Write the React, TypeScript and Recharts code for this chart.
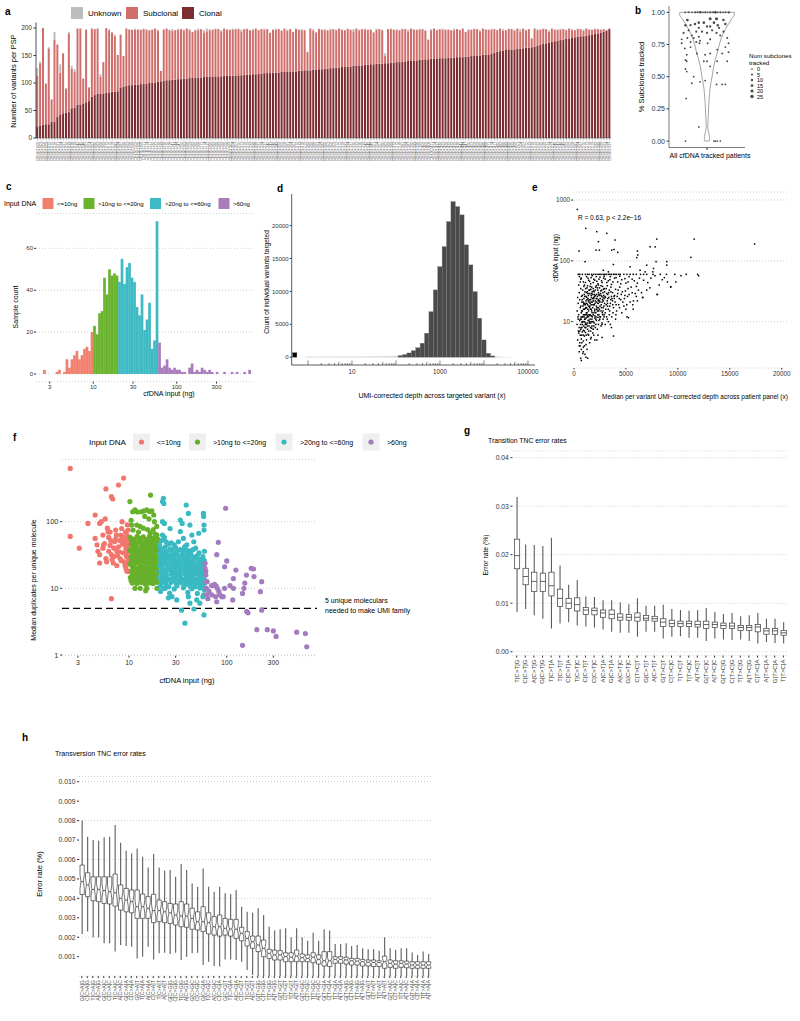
import React from 'react';
import {
  BarChart, Bar, XAxis, YAxis, CartesianGrid, ScatterChart, Scatter,
  ComposedChart, ReferenceLine, Cell,
} from 'recharts';

const FONT = '"Liberation Sans", Arial, Helvetica, sans-serif';

// ---------------- Panel a ----------------
const aClonal = [
  20,23,24,25,25,29,30,38,42,45,46,47,54,55,60,60,63,65,67,75,78,81,81,81,82,83,84,84,85,92,93,95,
  96,96,97,97,98,98,99,100,100,101,102,103,104,105,
  105,106,106,107,107,108,108,109,109,110,110,110,
  111,111,111,112,112,112,112,113,113,113,113,113,
  114,114,115,115,115,116,116,117,117,118,118,
  118,119,119,119,120,120,120,121,121,121,122,122,
  123,123,123,124,124,125,125,
  126,126,127,127,128,128,129,129,130,130,131,131,132,132,133,133,
  134,134,135,135,135,136,136,137,137,
  138,138,139,139,140,140,141,141,142,142,143,143,
  144,144,144,145,145,145,146,146,146,147,147,147,148,148,
  149,149,150,150,151,151,151,
  153,155,157,158,159,
  160,160,161,161,162,162,163,164,164,165,166,
  168,169,171,172,173,175,176,
  177,178,179,180,181,182,183,184,185,185,186,
  187,188,189,190,191,193,195,198,
];
const aSubclonal = [
  93,113,176,74,138,41,149,132,77,109,43,143,72,66,139,139,45,132,25,123,120,117,30,57,118,113,108,101,66,96,56,104,
  101,101,100,100,99,100,97,96,97,98,
  93,19,93,94,91,89,90,90,91,88,
  91,87,84,86,86,88,81,83,85,85,
  86,86,82,86,84,84,84,85,84,80,
  83,83,81,80,83,79,81,79,80,73,
  78,78,79,75,79,75,77,72,77,75,
  74,73,33,76,71,68,73,72,70,70,
  69,71,68,71,67,67,68,67,63,68,
  64,66,64,64,63,58,62,63,61,13,
  62,61,60,58,58,59,59,54,59,56,
  56,55,56,52,36,52,55,52,53,52,
  52,51,50,50,51,49,52,45,48,48,
  49,48,44,48,46,46,44,43,39,41,
  36,36,38,37,34,37,32,36,32,34,
  16,33,28,28,27,26,20,24,21,20,
  19,19,16,18,14,13,14,13,10,13,
  10,9,9,8,6,5,1,1,
];
const aUnknown = [
  14,3,0,0,2,0,14,0,15,0,2,3,5,4,0,0,0,1,0,2,0,2,5,0,0,2,0,3,0,0,0,1,
  1,0,2,1,0,1,2,0,1,0,
  2,0,1,0,1,3,0,2,0,1,
  0,2,0,1,3,0,4,5,2,0,
  1,0,2,0,1,0,2,0,1,3,
  0,1,0,2,0,1,0,2,0,1,
  0,2,0,1,0,2,0,0,1,0,
  2,0,1,0,3,0,1,0,2,0,
  3,0,1,0,2,0,1,0,4,0,
  1,0,2,0,1,0,2,0,1,5,
  0,1,0,2,0,1,0,3,0,1,
  0,2,0,1,0,2,0,1,0,2,
  0,1,0,3,0,1,0,0,2,0,
  1,0,2,0,1,0,2,0,1,0,
  3,0,1,0,2,0,4,0,1,0,
  1,0,2,0,1,0,3,0,1,0,
  2,0,1,0,2,0,1,0,2,0,
  1,0,1,0,0,0,1,0,
];
const aPatients = aClonal.map((_, i) => 'CRUK' + String(1000 + i * 3).padStart(4, '0'));
const aData = aPatients.map((p, i) => ({ name: p, clonal: aClonal[i], subclonal: aSubclonal[i], unknown: aUnknown[i] }));

// ---------------- Panel b ----------------
const bPointsRaw = [
  [0.656,1,3],[0.709,1,5],[0.762,1,2],[0.815,1,8],[0.852,1,4],[0.894,1,12],[0.937,1,3],[0.974,1,6],[1.011,1,2],
  [1.053,1,9],[1.095,1,4],[1.132,1,15],[1.169,1,3],[1.212,1,7],[1.254,1,2],[1.291,1,5],[1.344,1,10],
  [0.69,0.94,16],[1.05,0.95,19],[1.15,0.95,20],[1.26,0.94,13],[1.29,0.91,11],[0.87,0.92,12],[0.95,0.92,14],
  [0.66,0.9,10],[0.74,0.9,9],[0.81,0.91,11],[1.11,0.92,12],[1.17,0.9,10],[0.87,0.88,8],[1.0,0.89,9],
  [1.05,0.89,9],[1.19,0.88,8],[0.71,0.86,7],[0.83,0.85,6],[0.92,0.85,7],[1.08,0.86,7],[1.26,0.85,6],
  [0.63,0.84,6],[0.76,0.82,5],[0.87,0.81,5],[1.0,0.84,6],[1.15,0.84,6],[1.21,0.82,5],[0.69,0.8,4],
  [0.79,0.8,4],[0.89,0.78,4],[1.05,0.79,5],[1.32,0.8,4],[0.6,0.79,4],[0.74,0.77,3],[0.83,0.77,4],
  [0.88,0.76,4],[1.01,0.76,3],[0.6,0.76,4],[0.65,0.72,3],[0.74,0.73,3],[1.34,0.76,4],[1.29,0.73,3],
  [1.16,0.71,3],[0.84,0.68,3],[0.68,0.67,3],[0.97,0.67,3],[1.05,0.68,3],[1.24,0.68,3],[1.34,0.69,3],
  [0.66,0.63,3],[0.68,0.62,2],[0.95,0.62,2],[1.0,0.62,3],[1.16,0.62,3],[1.32,0.62,2],[0.66,0.56,2],
  [0.68,0.54,2],[1.05,0.58,2],[0.79,0.5,2],[0.89,0.46,2],[0.97,0.47,2],[1.16,0.53,2],[1.15,0.44,2],
  [1.29,0.44,2],[1.24,0.44,2],[0.76,0.45,2],[0.67,0.33,2],[0.87,0.11,1],[0.66,0,0],[1.11,0,0],
  [1.16,0,0],[1.21,0,0],[1.13,0,0],
];
const bPoints = bPointsRaw.map(([x, y, n]) => ({ x, y, n }));
const bViolinY = [0, 0.02, 0.05, 0.08, 0.11, 0.15, 0.2, 0.25, 0.3, 0.37, 0.45, 0.5, 0.58, 0.63, 0.7, 0.76, 0.84, 0.91, 0.95, 0.98, 1.0];
const bViolinHalfWidth = [0.035, 0.042, 0.035, 0.02, 0.012, 0.015, 0.02, 0.025, 0.03, 0.04, 0.06, 0.08, 0.106, 0.13, 0.17, 0.2, 0.26, 0.34, 0.39, 0.43, 0.43];
const bViolin = [
  ...bViolinY.map((y, i) => ({ x: 1 - bViolinHalfWidth[i], y })),
  ...bViolinY.map((y, i) => ({ x: 1 + bViolinHalfWidth[i], y })).reverse(),
];
bViolin.push({ ...bViolin[0] });
const bDotR = (n) => 0.85 + n * 0.035;

// ---------------- Panel c ----------------
const cBinStartLog = 0.4;
const cBinWidthLog = 0.03;
const cCounts = [
  2,0,0,0,0,1,2,0,1,7,3,7,9,11,7,9,12,13,11,20,
  23,19,29,30,46,38,50,47,48,47,
  44,55,43,51,53,46,44,32,28,38,21,26,34,12,16,73,
  15,3,4,7,3,2,3,2,2,1,1,0,3,5,1,2,1,3,2,1,2,1,0,1,0,0,1,0,0,1,0,1,0,0,1,0,2,
];
const groupColors = ['#F0806F', '#6AB42D', '#3DBAC4', '#A97DBD'];
const fColors = ['#F3766E', '#67B02B', '#39B9C2', '#A47BBF'];
const groupNames = ['<=10ng', '>10ng to <=20ng', '>20ng to <=60ng', '>60ng'];
const groupLimits = [10, 20, 60];
const groupOf = (ng) => (ng <= groupLimits[0] ? 0 : ng <= groupLimits[1] ? 1 : ng <= groupLimits[2] ? 2 : 3);
const cData = cCounts.map((c, k) => {
  const lx = cBinStartLog + cBinWidthLog * (k + 0.5);
  const g = groupOf(Math.pow(10, lx));
  return { lx, g0: g === 0 ? c : 0, g1: g === 1 ? c : 0, g2: g === 2 ? c : 0, g3: g === 3 ? c : 0 };
});
const cTickValues = [3, 10, 30, 100, 300];

// ---------------- Panel d ----------------
const dBinCenterLog = [
  -0.3, 0.0,0.1,0.2,0.3,0.4,0.5,0.6,0.7,0.8,0.9,1.0,1.1,1.2,1.3,1.4,1.5,1.6,1.7,1.8,1.9,
  2.0,2.1,2.2,2.3,2.4,2.5,2.6,2.7,2.8,2.9,3.0,3.1,3.2,3.3,3.4,3.5,3.6,3.7,3.8,3.9,4.0,4.1,4.2,4.3,4.4,4.5,4.6,
];
const dCounts = [
  700, 60,50,50,55,50,60,55,60,65,65,70,70,75,80,80,90,100,110,120,130,
  170,260,400,650,1000,1450,2130,3650,6930,10230,13770,16810,20610,23650,22890,21630,17070,14030,9970,5930,2630,600,200,80,40,20,10,
];
const dData = dBinCenterLog.map((lx, i) => ({ lx, count: dCounts[i] }));
const dTickDecades = [0, 1, 2, 3, 4, 5];
const dLabelDecades = [1, 3, 5];

// ---------------- Panel e ----------------
const ePointsRaw = [
  [400,60],[550,60],[800,60],[1100,60],[1300,60],[1450,60],[1700,60],[1900,60],[2100,60],[2300,60],[2450,60],[2600,60],
  [2800,60],[2950,60],[3100,60],[3300,60],[3450,60],[3600,60],[3800,60],[3950,60],[4100,60],[4300,60],[4450,60],[4800,60],
  [5100,60],[5400,60],[5700,60],[6000,60],[6400,60],[6700,60],[7000,60],[7600,60],[8300,60],[8900,60],[9700,60],[10800,60],[11900,60],
  [320,700],[1125,342],[2185,302],[3150,283],[3950,220],[2350,207],[2440,150],[2120,150],[3630,150],[3850,154],[4210,138],
  [480,145],[1060,97],[6100,145],[6140,125],[6040,113],[7330,170],[7810,170],[7970,228],[7900,97],[11570,228],[11250,114],
  [17390,189],[8930,97],[8930,85],[7650,75],[7590,66],[3790,87],[2830,70],[3310,66],[5400,80],[7000,85],[6360,70],[6850,66],
  [6620,25],[8030,28],[9320,37.6],[5240,11.6],[5080,19],[5720,22],
  [700,52],[900,45],[1200,55],[1400,48],[1600,42],[1900,50],[2200,46],[2500,54],[2700,44],[3000,50],[3300,47],[3600,41],
  [3900,52],[4200,45],[4600,49],[5000,43],[5300,55],[5800,47],[6300,52],[7100,44],[7800,57],[8500,49],[1000,40],[1750,57],
  [2350,40],[2900,56],[3500,55],[4400,56],
  [500,30],[650,35],[800,27],[950,38],[1050,31],[1150,26],[1250,36],[1350,29],[1450,33],[1550,38],[1650,27],[1750,31],
  [1850,35],[1950,28],[2050,33],[2150,39],[2250,26],[2350,30],[2450,36],[2550,29],[2650,33],[2750,38],[2850,27],[2950,31],
  [3100,35],[3250,28],[3400,33],[3550,37],[3700,30],[3850,26],[4000,34],[4200,29],[4400,37],[4650,31],[4900,27],[5200,35],
  [5600,30],[6000,38],[6600,25],[7000,33],[8000,28],[9300,37],[1300,39],[1700,37],[2600,39],[3200,39],[1900,25],[2800,25],[3600,26],
  [300,15],[400,20],[450,13],[550,23],[600,17],[700,14],[750,21],[850,18],[900,13],[950,24],[1000,16],[1050,20],[1100,13],
  [1150,22],[1200,17],[1250,14],[1300,19],[1350,24],[1400,15],[1450,21],[1500,17],[1550,13],[1600,23],[1650,19],[1700,15],
  [1750,21],[1800,17],[1850,13],[1900,24],[1950,19],[2000,16],[2050,22],[2100,14],[2150,18],[2200,24],[2250,15],[2300,20],
  [2350,17],[2400,13],[2450,22],[2500,18],[2600,15],[2700,21],[2800,17],[2900,24],[3000,14],[3100,19],[3200,22],[3300,16],
  [3400,13],[3500,20],[3650,24],[3800,17],[3950,21],[4100,15],[4300,19],[4500,23],[4800,18],[5100,12],[5400,21],[5700,16],
  [6100,22],[1250,23],[1550,20],[1850,22],[2150,21],[1400,18],[1700,12.5],[2000,12.5],[950,19],[1100,16.5],[1650,16],
  [2350,23],[2750,13],[3250,24],[800,15],
  [300,9],[400,11],[500,8],[550,10.5],[650,7.5],[700,11],[800,9],[850,12],[900,7.2],[1000,10],[1050,8],[1150,11.5],
  [1200,9],[1300,7.5],[1350,10.5],[1450,8.5],[1550,11],[1600,9.5],[1700,7.8],[1800,10],[1900,8.5],[2000,11.5],[2100,9],
  [2250,7.5],[2400,10.5],[2600,8.5],[2800,11],[3000,9],[3300,10],[3600,8],[4000,11],[1100,9.5],[1500,10],[1250,11.8],
  [750,9.8],[2300,11.8],
  [350,5],[450,6.5],[550,4.5],[600,6],[700,5.2],[800,6.8],[900,4.8],[1000,5.8],[1100,6.6],[1200,5],[1350,6.2],[1500,4.5],
  [1650,5.5],[1800,6.5],[2000,5],[2300,6],[2700,5.5],[3800,5.8],[900,3.8],[700,3.5],
  [640,2.5],[1320,2.5],[900,3.2],[500,3.2],
  [650,18],[720,26],[780,12],[830,33],[880,21],[920,16],[980,28],[1020,11],[1080,19],[1120,35],[1180,14],[1220,25],
  [1280,31],[1320,12.5],[1380,27],[1420,10.5],[1480,23],[1520,29],[1580,16],[1620,34],[1680,25],[1720,11],[1780,28],
  [1820,19],[1880,32],[1920,14],[1980,26],[2020,20],[2080,37],[2120,12],[2180,28],[2220,17],[2280,33],[2320,22],[2380,15],
  [2420,27],[2480,11],[2520,24],[2580,32],[2620,19],[2680,26],[2720,14],[2780,30],[2820,22],[2880,18],[2920,35],[2980,26],
  [3050,16],[3150,29],[3220,20],[3350,25],[3450,18],[3550,31],[3700,22],[3750,14],[3900,27],[4050,19],[4250,33],[4350,24],
  [4550,28],[4700,21],[4950,32],[5150,26],[5500,37],[5900,29],[6200,33],
  [600,11],[680,8],[740,15],[790,23],[860,10],[940,20],[990,13],[1040,26],[1090,9],[1140,17],[1190,30],[1230,20],[1270,9.5],
  [1330,16],[1390,22],[1440,13],[1490,33],[1530,18],[1590,8],[1640,21],[1690,29],[1740,14],[1790,24],[1840,10],[1890,19],
  [1940,31],[1990,15],[2040,27],[2090,11],[2140,24],[2190,16],[2240,36],[2290,13],[2340,20],[2390,28],[2440,16],[2490,21],
  [2540,12],[2590,27],[2640,17],[2690,9],[2740,23],[2790,15],[2840,34],[2890,12],[2940,20],[3030,25],[3130,12],[3230,18],
  [3330,30],[3430,15],[3530,23],[3630,12],[3730,19],[3880,24],[4030,13],[4150,26],[4380,17],[4600,14],[4850,24],[5000,16],
  [5300,28],[5650,19],[6000,26],[6500,30],[7300,36],
  [550,7],[620,9],[680,12],[720,6],[760,8],[820,10],[880,6],[930,8.5],[970,12],[1010,7],[1070,11],[1130,8],[1170,6],
  [1230,13],[1290,8.5],[1360,12],[1410,7],[1470,9.5],[1530,12.5],[1600,7],[1660,10],[1720,8.5],[1760,12],[1850,7.5],
  [1950,9.5],[2050,8],[2150,10.5],[2350,9],[2500,12],[2700,9.5],[2900,13],[3200,11],[3500,9],[600,4],[750,4.5],[850,3],
  [1000,4],[1150,4.2],[1250,3.5],[1400,6],[1600,5.2],[700,2.3],[1150,2.6],[1900,6],[2200,5],[1050,2.9],[500,4],[420,7],
  [380,12],[350,25],[450,40],[600,45],[520,55],[650,50],
  [1100,44],[1350,52],[1500,46],[1650,53],[1850,44],[2000,48],[2150,55],[2300,42],[2400,50],[2650,47],[2850,52],[3150,44],
  [3450,49],[3750,45],[4050,53],[4500,42],[4900,51],[5200,45],[5600,50],[6100,43],[6700,48],[7400,52],[8200,40],[9000,45],
  [10300,57],[12000,57],[8700,53],[9800,45],
];
const ePoints = ePointsRaw.map(([x, y]) => ({ x, y }));

// ---------------- Panel f ----------------
const fRed = [
  [2.5,630],[2.5,60],[3.1,40],[3.8,94],[4.5,126],[5.0,24],[5.8,310],[6.6,237],[6.8,219],[7.8,355],[8.8,450],[6.6,7],
  [4.5,56],[5.0,94],[5.2,100],[5.4,63],[4.8,36],[5.0,32],[5.4,40],[5.6,47],[5.8,28],[5.9,25],[6.1,70],[6.2,36],[6.4,44],
  [6.5,52],[6.6,32],[6.7,27],[6.9,24],[7.0,40],[7.1,50],[7.3,75],[7.4,63],[7.5,36],[7.6,31],[7.8,42],[8.0,52],[8.1,28],
  [8.2,63],[8.4,79],[8.5,100],[8.6,46],[8.8,34],[8.9,25],[9.1,22],[9.3,40],[9.5,63],[9.6,56],[9.8,30],[9.9,18],[9.5,18],
  [8.3,26],[7.5,22],[7.3,55],[6.4,70],[6.0,80],[5.5,45],[4.7,45],[5.7,110],[8.5,60],[9.2,70],[9.6,90],[9.8,75],[9.0,48],
  [8.0,35],[7.0,30],[6.2,58],[9.9,38],[9.7,24],[9.3,20],[9.9,50],[9.7,44],[9.4,30],[8.7,55],[9.9,27],[9.6,35],
];
const fGreen = [
  [10.3,58],[11.2,55],[12.1,60],[13.0,56],[14.0,59],[15.1,54],[16.2,60],[17.4,56],[18.5,58],[19.6,55],
  [10.6,46],[11.6,44],[12.6,48],[13.6,45],[14.6,47],[15.7,43],[16.8,46],[17.9,44],[19.0,47],[19.9,45],
  [10.2,37],[11.1,35],[12.0,38],[13.0,36],[14.1,37],[15.2,35],[16.3,38],[17.5,36],[18.7,37],[19.8,36],
  [10.5,29],[11.5,28],[12.5,30],[13.5,29],[14.5,28],[15.5,30],[16.6,29],[17.8,28],[19.0,30],[20.0,29],
  [10.2,23],[11.1,22],[12.0,24],[13.0,23],[14.1,22],[15.2,24],[16.3,23],[17.5,22],[18.7,24],[19.8,23],
  [10.6,18],[11.6,17.5],[12.6,18.5],[13.6,18],[14.6,17.5],[15.7,18.5],[16.8,18],[17.9,17.5],[19.0,18.5],[19.9,18],
  [10.3,14.5],[11.2,14],[12.1,15],[13.0,14.5],[14.0,14],[15.1,15],[16.2,14.5],[17.4,14],[18.5,15],[19.6,14.5],
  [10.8,12],[12.0,11.8],[13.3,12.2],[14.7,11.5],[16.0,12],[17.6,11.8],[19.2,12.3],
  [10.7,51],[11.7,50],[12.7,52],[13.7,50],[14.8,51],[15.9,50],[17.0,52],[18.1,50],[19.3,51],
  [10.9,40.5],[11.9,41],[12.9,40],[14.0,41],[15.0,40.5],[16.1,40],[17.3,41],[18.4,40],[19.5,40.5],
  [10.8,32.5],[11.8,32],[12.8,33],[13.9,32.5],[15.0,32],[16.1,33],[17.2,32.5],[18.3,32],[19.4,33],
  [10.7,26],[11.7,25.5],[12.7,26.5],[13.8,26],[14.9,25.5],[16.0,26.5],[17.1,26],[18.2,25.5],[19.4,26],
  [10.9,20.5],[11.9,20],[12.9,21],[14.0,20.5],[15.1,20],[16.2,21],[17.3,20.5],[18.4,20],[19.5,21],
  [10.8,16],[11.8,16],[12.8,16.5],[13.9,16],[15.0,16.5],[16.1,16],[17.2,16.5],[18.3,16],[19.4,16.5],
  [10.5,13],[11.5,13],[12.5,13.2],[13.6,12.8],[14.6,13.2],[15.7,13],[16.8,13.2],[18.0,12.8],[19.3,13.2],
  [10.2,200],[10.9,141],[11.5,150],[13.4,141],[15.2,150],[17.1,145],[17.9,126],[16.6,251],[10.6,89],[12.0,89],[13.0,85],
  [14.0,80],[15.5,76],[17.7,76],[19.3,63],[11.0,75],[12.5,70],[16.5,68],[18.5,65],[15.2,10],[11.5,12.6],[11.5,10],
  [13.0,10],[14.8,9.2],[19.3,10],[10.5,105],[14.5,120],[16.0,110],[12.2,140],[14.2,145],[16.2,142],[18.2,100],[19.2,85],
];
const fCyan = [
  [21,40],[23.5,42],[26.5,39],[30,41],[33.5,38],
  [20.5,33],[22.5,34],[25,32],[28,34],[31,33],[35,32],[39,34],[43,33],
  [21,27],[23,26],[25.5,28],[28.5,27],[32,26],[35.5,28],[39.5,27],[44,26],[49,28],[54,27],[59,26],
  [20.5,22],[22.5,23],[25,21.5],[28,22.5],[31,22],[34.5,21.5],[38.5,23],[42.5,22],[47,21.5],[52,22.5],[57,22],
  [21,18],[23.5,17.5],[26.5,18.5],[29.5,18],[33,17.5],[37,18.5],[41,18],[45.5,17.5],[50.5,18.5],[55.5,18],[59.5,17.5],
  [20.5,14.5],[22.5,15],[25,14],[28,14.5],[31,15],[34.5,14],[38.5,14.5],[42.5,15],[47,14],[52,14.5],[57,15],
  [21.5,12],[24,11.5],[27,12.3],[30.5,11.8],[34,12.2],[38,11.6],[42,12],[46.5,11.7],[51,12.1],[56,11.8],[59.5,12],
  [23,10],[29,9.8],[36,10.2],[44,9.9],[53,10.1],[59,9.5],[26,8.5],[40,8.7],[50,8.4],[58,8],
  [22,37],[24.5,36],[27.5,37.5],[31,36],[35,37],[38,38],[41,36.5],
  [21.7,30],[24,29.5],[26.8,30.5],[29.8,30],[33.2,29.5],[37,30.5],[41,30],[45.5,29.5],[50,31],
  [21.8,24.5],[24.2,24],[27,25],[30,24.5],[33.5,24],[37.2,25],[41.2,24.5],[45.8,24],[50.8,25],[55.5,24.5],[59.5,24],
  [21.9,20],[24.3,19.5],[27.2,20.5],[30.3,20],[33.8,19.5],[37.7,20.5],[41.8,20],[46.5,19.5],[51.5,20.5],[56.5,20],
  [21.8,16.2],[24.1,16],[27,16.5],[30,16.2],[33.5,16],[37.3,16.5],[41.4,16.2],[46,16],[51,16.5],[56,16.2],[59.8,16],
  [21.7,13.2],[24,13],[26.8,13.3],[29.8,13.2],[33.2,13],[37,13.3],[41,13.2],[45.5,13],[50.5,13.3],[55.5,13.2],[59.5,13.3],
  [21,10.8],[25.5,10.6],[31,10.9],[36.5,10.7],[42,10.8],[47.5,10.6],[54,10.8],[57.5,10.5],
  [22.5,224],[22.7,188],[22,200],[38.5,178],[40.5,133],[57.7,133],[58,120],[22,100],[23,94],[26.3,79],[33.5,106],
  [35,94],[42,89],[44,63],[46,50],[51.7,67],[58.5,89],[58.5,75],[22,63],[24,50],[27,48],[33.5,71],[36,56],[39,45],[48,40],
  [25.3,7.2],[27.5,7.5],[34.5,4.7],[30.8,6.7],[40.5,7.5],[46.1,4.9],[37.3,3],[58.5,4],[49.3,6.7],[53,6],[57,7.5],[42,6],
  [23.5,10],[21,9],[20.5,45],[21.5,52],[23,58],[25,46],[29,45],[32,50],[37,42],[45,38],[52,34],[57,30],[59,36],
];
const fPurple = [
  [60,23.7],[60,20],[61,15.8],[61.5,12.6],[62,10],[64,7],[70,8],[72.6,11],[75,11.5],[78,10.8],[80,10],[89,7.5],[97.4,159],
  [82,49],[79,32],[95,21],[100,25.8],[117,14],[124,18.8],[150,10],[153,12],[159,15.8],[178,20],[188,19.5],[190,15],
  [228,12.6],[221,8.9],[145,8.4],[115,6.7],[79,6.3],[85,8],[92,7.5],[117,10],[108,11],[160,4.5],[165,4.3],[228,4.7],
  [203,2.4],[260,2.4],[300,2.3],[320,1.9],[520,2.2],[638,2.1],[145,1.4],[659,1.33],[70,11],[66,9],[63,12.6],[83,9],
  [77,7.5],[95,10],[61,18],[62,8],
];
const fGroups = [fRed, fGreen, fCyan, fPurple].map((arr) => arr.map(([x, y]) => ({ x, y })));

// ---------------- Panel g ----------------
const gCats = ['T[C>T]G','C[C>T]G','A[C>T]G','G[C>T]G','T[C>T]A','T[C>T]T','C[C>T]A','T[C>T]C','C[C>T]T','C[C>T]C','A[C>T]A','G[C>T]A','A[C>T]C','G[C>T]C','C[T>C]T','G[C>T]T','A[C>T]T','G[T>C]T','C[T>C]C','T[T>C]T','T[T>C]C','A[T>C]T','G[T>C]C','A[T>C]C','G[T>C]G','C[T>C]G','T[T>C]G','A[T>C]G','C[T>C]A','A[T>C]A','G[T>C]A','T[T>C]A'];
const gHi = [0.0319,0.0221,0.022,0.0218,0.0235,0.0178,0.0138,0.0148,0.0114,0.0113,0.0106,0.0106,0.0102,0.0098,0.011,0.0095,0.0095,0.0097,0.0088,0.0086,0.0085,0.0086,0.009,0.0082,0.0078,0.008,0.0073,0.0075,0.008,0.0068,0.0068,0.0061];
const gQ3 = [0.0232,0.0172,0.0164,0.0162,0.0164,0.0129,0.011,0.0111,0.0091,0.009,0.0086,0.0086,0.0078,0.0077,0.008,0.0075,0.0073,0.0068,0.0065,0.0063,0.0063,0.0063,0.0063,0.0061,0.0059,0.0059,0.0054,0.0054,0.0056,0.0048,0.0048,0.0044];
const gMed = [0.0198,0.0155,0.0145,0.0145,0.0136,0.011,0.01,0.0097,0.0086,0.0085,0.008,0.0077,0.0071,0.0071,0.0071,0.0069,0.0068,0.0061,0.0058,0.0058,0.0058,0.0056,0.0056,0.0056,0.0054,0.0053,0.005,0.005,0.0051,0.0043,0.0043,0.0039];
const gQ1 = [0.0171,0.0138,0.0124,0.0124,0.0115,0.0093,0.0089,0.0084,0.0077,0.0076,0.0071,0.0068,0.0065,0.0065,0.0063,0.0065,0.0063,0.0052,0.0052,0.0052,0.0052,0.0051,0.0048,0.005,0.0048,0.0048,0.0044,0.0044,0.0041,0.0036,0.0036,0.0034];
const gLo = [0.0082,0.0088,0.0075,0.0068,0.0048,0.0058,0.0061,0.0054,0.0052,0.005,0.0046,0.0041,0.0039,0.0039,0.0031,0.0041,0.0041,0.0027,0.0031,0.0032,0.0029,0.0029,0.0022,0.0027,0.0025,0.0024,0.0025,0.0022,0.0017,0.002,0.0018,0.0017];
const gData = gCats.map((name, i) => ({ name, lo: gLo[i], q1: gQ1[i], med: gMed[i], q3: gQ3[i], hi: gHi[i] }));

// ---------------- Panel h ----------------
const hCats = ['G[C>A]G','C[C>A]G','T[C>A]G','A[C>A]G','G[C>A]C','C[C>A]C','T[C>A]C','A[C>A]C','G[C>A]A','C[C>A]A','G[C>A]T','T[C>A]A','A[C>A]A','C[C>A]T','T[C>A]T','A[C>A]T','G[C>G]G','C[C>G]G','T[C>G]G','A[C>G]G','G[C>G]C','C[C>G]C','G[C>G]A','T[C>G]C','A[C>G]C','C[C>G]A','G[C>G]T','T[C>G]A','A[C>G]A','C[C>G]T','T[C>G]T','A[C>G]T','G[T>G]G','C[T>G]G','T[T>G]G','A[T>G]G','G[T>G]T','C[T>G]T','T[T>G]T','A[T>G]T','G[T>G]C','C[T>G]C','T[T>G]C','A[T>G]C','G[T>G]A','C[T>G]A','T[T>G]A','A[T>G]A','G[T>A]G','C[T>A]G','T[T>A]G','A[T>A]G','G[T>A]T','C[T>A]T','T[T>A]T','A[T>A]T','G[T>A]C','C[T>A]C','T[T>A]C','A[T>A]C','G[T>A]A','C[T>A]A','T[T>A]A','A[T>A]A'];
const hLo = [0.00217,0.00229,0.002,0.002,0.00169,0.00169,0.00126,0.0016,0.00155,0.00151,0.00091,0.001,0.00151,0.00086,0.00117,0.0012,0.00114,0.0012,0.00083,0.001,0.00117,0.0012,0.00057,0.00074,0.00052,0.00049,0.00086,0.00086,0.00083,0.00074,0.00031,0.00006,0,0,0,0,0,0,0,0,0,0,0,0,0,0,0,0,0,0,0,0,0,0,0,0,0,0,0,0,0,0,0,0];
const hQ1 = [0.0042,0.00409,0.00388,0.00383,0.00374,0.00371,0.0036,0.0034,0.00331,0.00326,0.00297,0.00297,0.00297,0.00275,0.0028,0.00275,0.00271,0.00263,0.00254,0.00251,0.00241,0.00237,0.00229,0.00217,0.00211,0.00206,0.00211,0.00206,0.00194,0.00182,0.00155,0.00143,0.00126,0.001,0.00091,0.00083,0.00083,0.00074,0.00074,0.00074,0.00074,0.00074,0.00069,0.00062,0.00052,0.00049,0.00066,0.00066,0.00062,0.00057,0.00057,0.00052,0.00052,0.00049,0.00049,0.0004,0.00045,0.0004,0.00045,0.00043,0.0004,0.0004,0.0004,0.0004];
const hMed = [0.00486,0.00469,0.00446,0.00446,0.0044,0.00434,0.00429,0.004,0.00391,0.00383,0.00357,0.00357,0.00349,0.00337,0.00337,0.00331,0.00326,0.00314,0.00309,0.00309,0.00297,0.0028,0.0028,0.00275,0.00254,0.00254,0.00246,0.00242,0.00241,0.0022,0.00194,0.00177,0.0016,0.00143,0.00117,0.00109,0.00109,0.001,0.00097,0.00103,0.00095,0.00091,0.00097,0.00086,0.00079,0.00079,0.00086,0.00086,0.00083,0.00079,0.00077,0.00074,0.00071,0.0007,0.0007,0.00074,0.00066,0.00062,0.00066,0.00062,0.00057,0.00057,0.00057,0.00057];
const hQ3 = [0.00571,0.00532,0.00511,0.00511,0.00511,0.00511,0.00525,0.00469,0.00451,0.00443,0.00443,0.00422,0.00409,0.00421,0.00391,0.00383,0.00374,0.00371,0.00383,0.00371,0.00349,0.00331,0.00357,0.00326,0.00306,0.00314,0.00297,0.00292,0.00292,0.00251,0.00229,0.00206,0.00206,0.00186,0.00138,0.00134,0.00131,0.0012,0.0012,0.00134,0.00114,0.00109,0.0012,0.00109,0.00126,0.00126,0.001,0.001,0.00097,0.00091,0.00091,0.00086,0.00083,0.00083,0.00079,0.00103,0.00083,0.00079,0.00079,0.00077,0.00074,0.00074,0.00074,0.00074];
const hHi = [0.008,0.00717,0.007,0.00697,0.00714,0.00717,0.00777,0.00686,0.00645,0.00631,0.00657,0.00614,0.00559,0.00628,0.00559,0.00542,0.00546,0.00511,0.00577,0.00546,0.00477,0.0046,0.00554,0.0046,0.00434,0.0046,0.00426,0.00422,0.00443,0.00357,0.00331,0.00326,0.00349,0.00314,0.00254,0.00234,0.00241,0.00246,0.002,0.00246,0.002,0.00182,0.00223,0.00182,0.00241,0.00234,0.00165,0.00165,0.00169,0.00155,0.0016,0.00143,0.00138,0.00138,0.00131,0.002,0.00143,0.00134,0.00143,0.00143,0.00121,0.00109,0.00126,0.00114];
const hData = hCats.map((name, i) => ({ name, lo: hLo[i], q1: hQ1[i], med: hMed[i], q3: hQ3[i], hi: hHi[i] }));

// ---------------- helpers ----------------
const Pos = ({ l, t, children }) => <div style={{ position: 'absolute', left: l, top: t }}>{children}</div>;

const T = ({ x, y, s = 7, a = 'start', w = 'normal', r = 0, fill = '#000', children }) => (
  <text x={x} y={y} fontSize={s} textAnchor={a} fontWeight={w} fill={fill} fontFamily={FONT}
    dominantBaseline={r ? 'central' : undefined}
    transform={r ? `rotate(${r} ${x} ${y})` : undefined}>{children}</text>
);

const RotTick = ({ x, y, payload, fs, fill }) => (
  <text x={x} y={y} transform={`rotate(-90 ${x} ${y})`} textAnchor="end" dominantBaseline="central"
    fontSize={fs} fill={fill} fontFamily={FONT}>{payload.value}</text>
);

// histogram bar drawn slightly wider than its bin so neighbouring bins touch
const HistBar = (p) => {
  if (!p || !p.height || Math.abs(p.height) < 0.01) return null;
  const pad = p.pad || 0;
  return <rect x={p.x - pad} y={p.y} width={p.width + 2 * pad} height={p.height} fill={p.fill} stroke={p.stroke} strokeWidth={p.strokeWidth} />;
};

const BoxShape = (props) => {
  const { x, y, width, height, payload, notch } = props;
  if (!payload) return null;
  const { lo, q1, med, q3, hi } = payload;
  const top = Math.min(y, y + height);
  const h = Math.abs(height);
  const k = h / (q3 - q1);
  const Y = (v) => top + (q3 - v) * k;
  const cx = x + width / 2;
  const x0 = x, x1 = x + width;
  const ym = Y(med);
  let box;
  if (notch) {
    const nh = Math.min(ym - Y(q3), Y(q1) - ym) * 0.55;
    const ins = width * 0.22;
    const d = `M${x0},${Y(q3)} L${x1},${Y(q3)} L${x1},${ym - nh} L${x1 - ins},${ym} L${x1},${ym + nh} L${x1},${Y(q1)} L${x0},${Y(q1)} L${x0},${ym + nh} L${x0 + ins},${ym} L${x0},${ym - nh} Z`;
    box = (
      <g>
        <path d={d} fill="#fff" stroke="#3a3a3a" strokeWidth={0.7} />
        <line x1={x0 + ins} x2={x1 - ins} y1={ym} y2={ym} stroke="#3a3a3a" strokeWidth={0.8} />
      </g>
    );
  } else {
    box = (
      <g>
        <rect x={x0} y={Y(q3)} width={width} height={Y(q1) - Y(q3)} fill="#fff" stroke="#3a3a3a" strokeWidth={0.7} />
        <line x1={x0} x2={x1} y1={ym} y2={ym} stroke="#3a3a3a" strokeWidth={0.8} />
      </g>
    );
  }
  return (
    <g>
      <line x1={cx} x2={cx} y1={Y(hi)} y2={Y(q3)} stroke="#5c5c5c" strokeWidth={1.1} />
      <line x1={cx} x2={cx} y1={Y(q1)} y2={Y(lo)} stroke="#5c5c5c" strokeWidth={1.1} />
      {box}
    </g>
  );
};

const tickStyle = (fs) => ({ fontSize: fs, fill: '#333', fontFamily: FONT });
const gridProps = { vertical: false, stroke: '#c4c4c4', strokeDasharray: '1 2', strokeWidth: 0.8 };

const DTick = ({ x, y, payload }) => {
  const v = payload.value;
  const dec = Math.floor(v + 1e-9);
  const m = Math.round(Math.pow(10, v - dec));
  const isDec = m === 1;
  const len = isDec ? 4.5 : m === 5 ? 3 : 2;
  return (
    <g>
      <line x1={x} x2={x} y1={y} y2={y - len} stroke="#333" strokeWidth={0.6} />
      {isDec && dLabelDecades.includes(dec) ? (
        <text x={x} y={y + 9} textAnchor="middle" fontSize={6.3} fill="#333" fontFamily={FONT}>{String(Math.round(Math.pow(10, dec)))}</text>
      ) : null}
    </g>
  );
};
const dTicks = [];
dTickDecades.forEach((d) => { for (let m = 1; m <= 9; m++) { const v = Math.log10(m * Math.pow(10, d)); if (v <= 5.16) dTicks.push(v); } });

// ---------------- App ----------------
export default function App() {
  return (
    <div style={{ position: 'absolute', left: 0, top: 0, width: 800, height: 1021, background: '#fff', fontFamily: FONT, overflow: 'hidden' }}>
      {/* a */}
      <Pos l={0} t={0}>
        <BarChart width={615} height={165} data={aData} margin={{ top: 22.5, right: 4, bottom: 0, left: 0 }} barCategoryGap="8%">
          <XAxis dataKey="name" interval={0} height={27} tickSize={2.5} tickMargin={1}
            tickLine={{ stroke: '#666', strokeWidth: 0.4 }} axisLine={{ stroke: '#555', strokeWidth: 0.6 }}
            tick={(p) => <RotTick {...p} fs={3.9} fill="#666" />} />
          <YAxis width={36} domain={[0, 210]} ticks={[0, 50, 100, 150, 200]} tick={tickStyle(6.5)} tickSize={2.5} tickMargin={1.5}
            axisLine={{ stroke: '#222', strokeWidth: 0.8 }} tickLine={{ stroke: '#333' }} />
          <Bar dataKey="clonal" stackId="s" fill="#7c2b2f" isAnimationActive={false} />
          <Bar dataKey="subclonal" stackId="s" fill="#d06e6c" isAnimationActive={false} />
          <Bar dataKey="unknown" stackId="s" fill="#bdbdbd" isAnimationActive={false} />
        </BarChart>
      </Pos>

      {/* b */}
      <Pos l={615} t={0}>
        <ScatterChart width={185} height={165} margin={{ top: 5.9, right: 55, bottom: 0, left: 0 }}>
          <XAxis type="number" dataKey="x" domain={[0.4, 1.6]} ticks={[1]} tickFormatter={() => ''} height={17.5}
            tickSize={2.5} axisLine={{ stroke: '#444', strokeWidth: 0.7 }} tickLine={{ stroke: '#333' }} allowDataOverflow />
          <YAxis type="number" dataKey="y" domain={[-0.05, 1.05]} ticks={[0, 0.25, 0.5, 0.75, 1]} tickFormatter={(v) => v.toFixed(2)}
            width={54} tick={tickStyle(7)} tickSize={2.5} tickMargin={1.5} axisLine={{ stroke: '#444', strokeWidth: 0.7 }} tickLine={{ stroke: '#333' }} allowDataOverflow />
          <Scatter data={bViolin} line={{ stroke: '#9a9a9a', strokeWidth: 0.9 }} lineJointType="monotoneY" shape={() => <g />} isAnimationActive={false} />
          <Scatter data={bPoints} isAnimationActive={false}
            shape={(p) => <circle cx={p.cx} cy={p.cy} r={bDotR(p.payload ? p.payload.n : 0)} fill="#4a4a4a" />} />
        </ScatterChart>
      </Pos>

      {/* c */}
      <Pos l={0} t={196}>
        <BarChart width={262} height={204} data={cData} margin={{ top: 17.5, right: 7, bottom: 0, left: 0 }}>
          <CartesianGrid {...gridProps} />
          <XAxis type="number" dataKey="lx" domain={[0.313, 2.939]} ticks={cTickValues.map((v) => Math.log10(v))}
            tickFormatter={(v) => String(Math.round(Math.pow(10, v)))} height={18.4} axisLine={false}
            tick={tickStyle(6)} tickSize={2} tickMargin={1} tickLine={{ stroke: '#333' }} allowDataOverflow />
          <YAxis domain={[-3.65, 76.65]} ticks={[0, 20, 40, 60]} width={36} axisLine={false} tick={tickStyle(6)}
            tickSize={2} tickMargin={1} tickLine={{ stroke: '#333' }} allowDataOverflow />
          {groupColors.map((c, i) => (
            <Bar key={i} dataKey={'g' + i} stackId="c" fill={c} barSize={2.4} isAnimationActive={false}
              shape={(p) => <HistBar {...p} pad={0.15} />} />
          ))}
        </BarChart>
      </Pos>

      {/* d */}
      <Pos l={262} t={180}>
        <BarChart width={283} height={220} data={dData} margin={{ top: 14, right: 10, bottom: 0, left: 0 }}>
          <XAxis type="number" dataKey="lx" domain={[-0.37, 5.16]} ticks={dTicks} height={35} tickSize={0} tickMargin={0}
            tickLine={false} axisLine={{ stroke: '#333', strokeWidth: 0.8 }} tick={(p) => <DTick {...p} />} allowDataOverflow interval={0} />
          <YAxis domain={[-1180, 24800]} ticks={[0, 5000, 10000, 15000, 20000]} width={29.7} tick={tickStyle(6)}
            tickSize={2} tickMargin={1} axisLine={{ stroke: '#333', strokeWidth: 0.8 }} tickLine={{ stroke: '#333' }} allowDataOverflow />
          <Bar dataKey="count" fill="#4a4a4a" stroke="#7a7a7a" strokeWidth={0.3} barSize={4.3} isAnimationActive={false}
            shape={(p) => <HistBar {...p} pad={0.05} />}>
            {dData.map((d, i) => <Cell key={i} fill={i === 0 ? '#000' : d.count < 200 ? '#c4c4c4' : '#4a4a4a'} stroke={d.count < 200 ? '#dddddd' : '#7a7a7a'} />)}
          </Bar>
        </BarChart>
      </Pos>

      {/* e */}
      <Pos l={545} t={180}>
        <ScatterChart width={255} height={220} margin={{ top: 12, right: 13.1, bottom: 0, left: 0 }}>
          <CartesianGrid {...gridProps} />
          <XAxis type="number" dataKey="x" domain={[-100, 20500]} ticks={[0, 5000, 10000, 15000, 20000]} height={32}
            axisLine={false} tick={tickStyle(6.3)} tickSize={1.5} tickMargin={2} tickLine={{ stroke: '#333' }} allowDataOverflow />
          <YAxis type="number" dataKey="y" scale="log" domain={[1.73, 1357]} ticks={[10, 100, 1000]} width={28}
            axisLine={false} tick={tickStyle(6.3)} tickSize={2} tickMargin={1} tickLine={{ stroke: '#333' }} allowDataOverflow />
          <Scatter data={ePoints} isAnimationActive={false} shape={(p) => <rect x={p.cx - 0.75} y={p.cy - 0.75} width={1.5} height={1.5} fill="#000" />} />
        </ScatterChart>
      </Pos>

      {/* f */}
      <Pos l={0} t={430}>
        <ScatterChart width={420} height={270} margin={{ top: 29.4, right: 103, bottom: 0, left: 0 }}>
          <CartesianGrid {...gridProps} />
          <XAxis type="number" dataKey="x" scale="log" domain={[2.06, 839]} ticks={[3, 10, 30, 100, 300]} height={44.3}
            axisLine={false} tick={tickStyle(7)} tickSize={2} tickMargin={2} tickLine={{ stroke: '#333' }} allowDataOverflow />
          <YAxis type="number" dataKey="y" scale="log" domain={[0.977, 859]} ticks={[1, 10, 100]} width={62}
            axisLine={false} tick={tickStyle(7.5)} tickSize={2} tickMargin={1.5} tickLine={{ stroke: '#333' }} allowDataOverflow />
          {fGroups.map((pts, i) => (
            <Scatter key={i} data={pts} isAnimationActive={false}
              shape={(p) => <circle cx={p.cx} cy={p.cy} r={2.6} fill={fColors[i]} />} />
          ))}
          <ReferenceLine y={5} stroke="#000" strokeWidth={1.4} strokeDasharray="7 4" />
        </ScatterChart>
      </Pos>

      {/* g */}
      <Pos l={460} t={440}>
        <ComposedChart width={340} height={260} data={gData} margin={{ top: 10.9, right: 12.4, bottom: 0, left: 0 }}>
          <CartesianGrid {...gridProps} />
          <XAxis dataKey="name" interval={0} height={44.4} axisLine={false} tickSize={2} tickMargin={2}
            tickLine={{ stroke: '#333' }} tick={(p) => <RotTick {...p} fs={6} fill="#333" />} />
          <YAxis domain={[-0.0008, 0.0414]} ticks={[0, 0.01, 0.02, 0.03, 0.04]} tickFormatter={(v) => v.toFixed(2)} width={52.4}
            axisLine={false} tick={tickStyle(6.8)} tickSize={2} tickMargin={1.5} tickLine={{ stroke: '#333' }} allowDataOverflow />
          <Bar dataKey={(d) => [d.q1, d.q3]} barSize={5.3} isAnimationActive={false} shape={(p) => <BoxShape {...p} />} />
        </ComposedChart>
      </Pos>

      {/* h */}
      <Pos l={0} t={760}>
        <ComposedChart width={440} height={261} data={hData} margin={{ top: 16.5, right: 9, bottom: 0, left: 0 }}>
          <CartesianGrid {...gridProps} />
          <XAxis dataKey="name" interval={0} height={44.9} axisLine={false} tickSize={2} tickMargin={2}
            tickLine={{ stroke: '#333' }} tick={(p) => <RotTick {...p} fs={5.2} fill="#444" />} />
          <YAxis domain={[0, 0.01027]} ticks={[0.001, 0.002, 0.003, 0.004, 0.005, 0.006, 0.007, 0.008, 0.009, 0.01]}
            tickFormatter={(v) => v.toFixed(3)} width={79} axisLine={false} tick={tickStyle(6.8)} tickSize={2} tickMargin={1.5}
            tickLine={{ stroke: '#333' }} allowDataOverflow />
          <Bar dataKey={(d) => [d.q1, d.q3]} barSize={4.3} isAnimationActive={false} shape={(p) => <BoxShape {...p} notch />} />
        </ComposedChart>
      </Pos>

      {/* overlay text */}
      <svg width={800} height={1021} style={{ position: 'absolute', left: 0, top: 0, pointerEvents: 'none' }}>
        {/* a */}
        <T x={5} y={15} s={10} w="bold">a</T>
        <rect x={71} y={7} width={12} height={12} fill="#bdbdbd" />
        <T x={88} y={16} s={8}>Unknown</T>
        <rect x={126} y={7} width={12} height={12} fill="#d06e6c" />
        <T x={143} y={16} s={8}>Subclonal</T>
        <rect x={182} y={7} width={12} height={12} fill="#7c2b2f" />
        <T x={199} y={16} s={8}>Clonal</T>
        <T x={13.5} y={81} s={7.5} a="middle" r={-90}>Number of variants per PSP</T>
        {/* b */}
        <T x={635} y={14} s={10} w="bold">b</T>
        <T x={641.5} y={77} s={7.5} a="middle" r={-90}>% Subclones tracked</T>
        <T x={710} y={158} s={7} a="middle">All cfDNA tracked patients</T>
        <T x={749} y={58} s={6.2}>Num subclones</T>
        <T x={749} y={64.5} s={6.2}>tracked</T>
        {[0, 5, 10, 15, 20, 25].map((n, i) => (
          <g key={n}>
            <circle cx={752} cy={69 + i * 5.5} r={bDotR(n)} fill="#4a4a4a" />
            <T x={757} y={71 + i * 5.5} s={5.5}>{String(n)}</T>
          </g>
        ))}
        {/* c */}
        <T x={6} y={190} s={10} w="bold">c</T>
        <T x={4} y={206} s={7}>Input DNA</T>
        {groupColors.map((c, i) => (
          <rect key={i} x={[42.5, 83.5, 150, 218.5][i]} y={198} width={11} height={11} fill={c} />
        ))}
        <T x={57} y={206} s={6}>{groupNames[0]}</T>
        <T x={98} y={206} s={6}>{groupNames[1]}</T>
        <T x={165} y={206} s={6}>{groupNames[2]}</T>
        <T x={233} y={206} s={6}>{groupNames[3]}</T>
        <T x={15} y={307} s={7} a="middle" r={-90}>Sample count</T>
        <T x={169} y={396} s={7} a="middle">cfDNA input (ng)</T>
        {/* d */}
        <T x={277} y={192} s={10} w="bold">d</T>
        <T x={266.5} y={282} s={6.5} a="middle" r={-90}>Count of individual variants targeted</T>
        <T x={432} y={398} s={7} a="middle">UMI-corrected depth across targeted variant (x)</T>
        {/* e */}
        <T x={532} y={191} s={10} w="bold">e</T>
        <T x={555.5} y={258} s={6.5} a="middle" r={-90}>cfDNA input (ng)</T>
        <T x={695} y={399} s={6.5} a="middle">Median per variant UMI−corrected depth across patient panel (x)</T>
        <T x={578} y={220} s={6.5}>R = 0.63, p &lt; 2.2e−16</T>
        {/* f */}
        <T x={13} y={441} s={10} w="bold">f</T>
        <T x={89} y={445} s={8}>Input DNA</T>
        {[141.5, 197.5, 284, 371].map((cx, i) => (
          <g key={i}>
            <rect x={cx - 8.5} y={433.5} width={17} height={17} fill="#efefef" />
            <circle cx={cx} cy={442} r={2.6} fill={fColors[i]} />
          </g>
        ))}
        <T x={157} y={444.5} s={7}>{groupNames[0]}</T>
        <T x={213} y={444.5} s={7}>{groupNames[1]}</T>
        <T x={300} y={444.5} s={7}>{groupNames[2]}</T>
        <T x={387} y={444.5} s={7}>{groupNames[3]}</T>
        <T x={33.5} y={580} s={7} a="middle" r={-90}>Median duplicates per unique molecule</T>
        <T x={187} y={683} s={7.5} a="middle">cfDNA input (ng)</T>
        <T x={325} y={603} s={7}>5 unique moleculars</T>
        <T x={325} y={613} s={7}>needed to make UMI family</T>
        {/* g */}
        <T x={464} y={434} s={10} w="bold">g</T>
        <T x={488} y={442.5} s={6.8}>Transition TNC error rates</T>
        <T x={485} y={555} s={6.8} a="middle" r={-90}>Error rate (%)</T>
        {/* h */}
        <T x={22} y={741} s={10} w="bold">h</T>
        <T x={55} y={756} s={7}>Transversion TNC error rates</T>
        <T x={39.5} y={874} s={7.5} a="middle" r={-90}>Error rate (%)</T>
      </svg>
    </div>
  );
}
